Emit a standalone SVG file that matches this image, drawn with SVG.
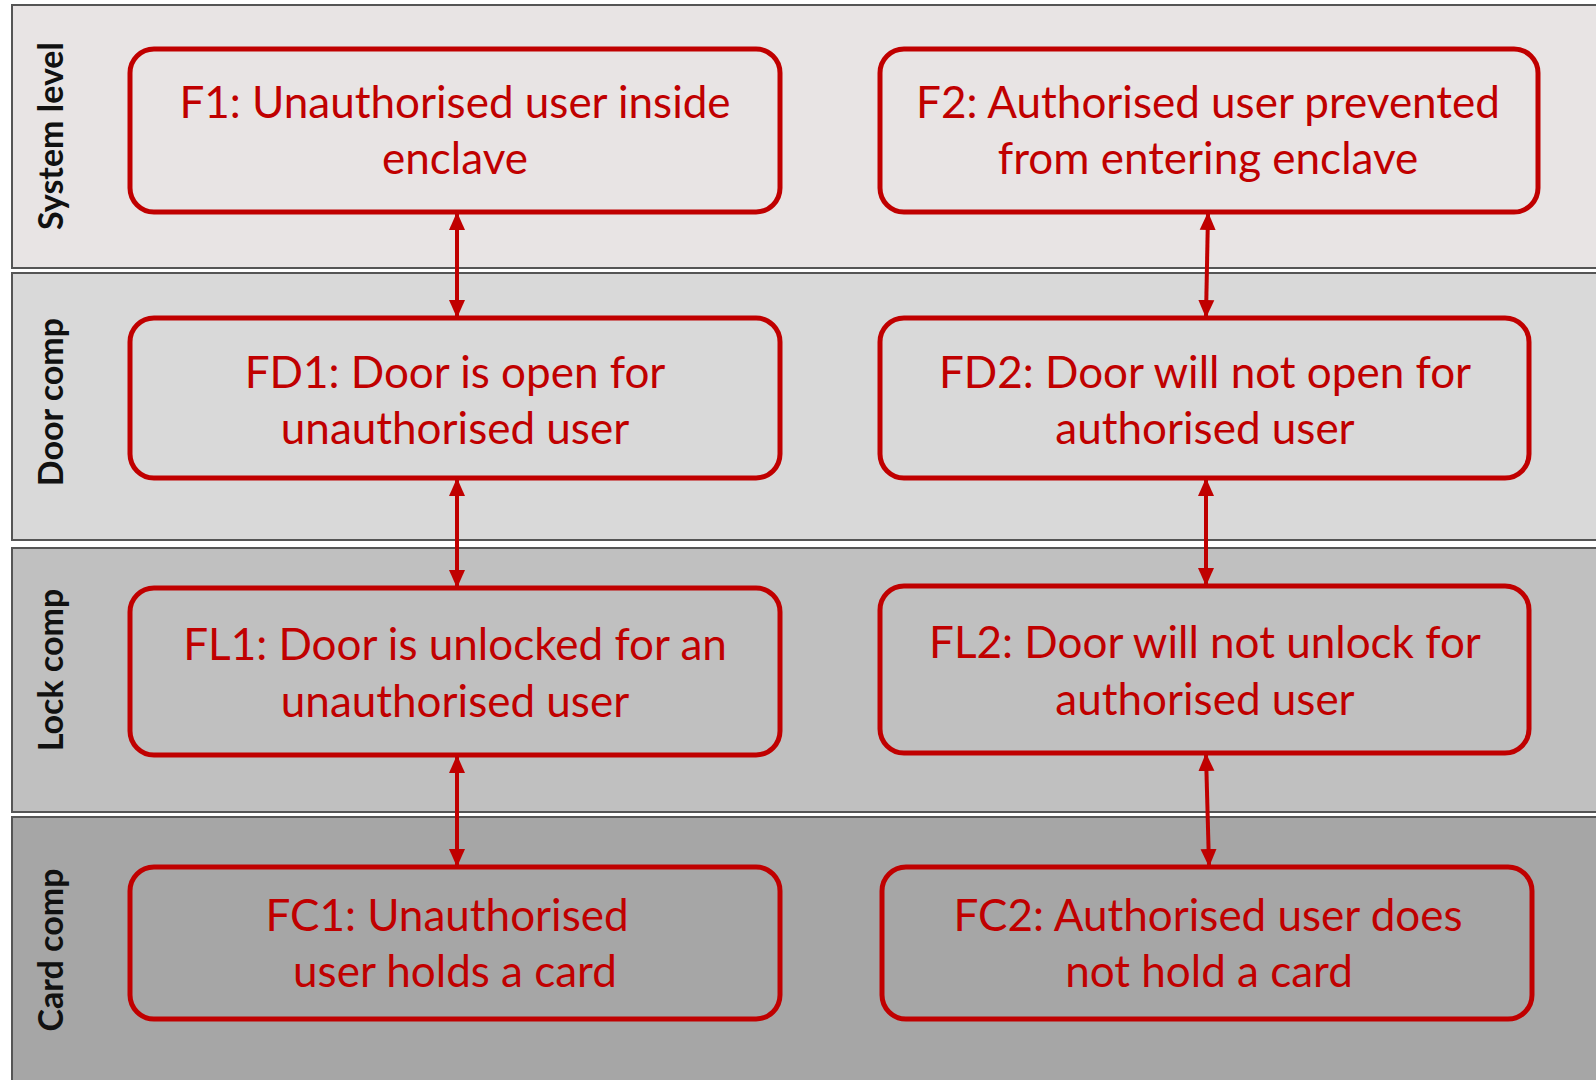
<svg xmlns="http://www.w3.org/2000/svg" width="1596" height="1080" viewBox="0 0 1596 1080">
<style>
.lane{stroke:#555;stroke-width:2}
.box{fill:none;stroke:#c00000;stroke-width:5}
.t{font-family:Lato,"Open Sans",sans-serif;font-size:44px;fill:#c00000;text-anchor:middle}
.lbl{font-family:Lato,"Open Sans",sans-serif;font-size:34px;font-weight:bold;fill:#111;text-anchor:middle}
.c{stroke:#c00000;stroke-width:4;fill:none;marker-start:url(#ah);marker-end:url(#ah)}
</style>
<defs>
<marker id="ah" markerUnits="userSpaceOnUse" markerWidth="18" markerHeight="18" viewBox="0 0 18 18" refX="16" refY="9" orient="auto-start-reverse">
<path d="M0,1 L18,9 L0,17 Z" fill="#c00000"/>
</marker>
</defs>
<rect width="1596" height="1080" fill="#ffffff"/>
<g id="lanes">
<rect class="lane" x="12" y="5" width="1600" height="263" fill="#e8e4e4"/>
<rect class="lane" x="12" y="273" width="1600" height="267" fill="#d9d9d9"/>
<rect class="lane" x="12" y="548" width="1600" height="264" fill="#c0c0c0"/>
<rect class="lane" x="12" y="817" width="1600" height="280" fill="#a6a6a6"/>
<text class="lbl" transform="translate(63,136) rotate(-90)">System level</text>
<text class="lbl" transform="translate(63,402) rotate(-90)">Door comp</text>
<text class="lbl" transform="translate(63,670) rotate(-90)">Lock comp</text>
<text class="lbl" transform="translate(63,950) rotate(-90)">Card comp</text>
</g>
<g id="connectors">
<path class="c" d="M457,214 L457,316"/>
<path class="c" d="M1208,214 L1206,316"/>
<path class="c" d="M457,480 L457,586"/>
<path class="c" d="M1206,480 L1206,584"/>
<path class="c" d="M457,757 L457,865"/>
<path class="c" d="M1206,755 L1209,865"/>
</g>
<g id="F1">
<rect class="box" x="130" y="49" width="650" height="163" rx="24"/>
<text class="t" x="455" y="118">F1: Unauthorised  user inside</text>
<text class="t" x="455" y="174">enclave</text>
</g>
<g id="F2">
<rect class="box" x="880" y="49" width="658" height="163" rx="24"/>
<text class="t" x="1208" y="118">F2: Authorised  user prevented</text>
<text class="t" x="1208" y="174">from entering  enclave</text>
</g>
<g id="FD1">
<rect class="box" x="130" y="318" width="650" height="160" rx="24"/>
<text class="t" x="455" y="388">FD1: Door is open for</text>
<text class="t" x="455" y="444">unauthorised  user</text>
</g>
<g id="FD2">
<rect class="box" x="880" y="318" width="649" height="160" rx="24"/>
<text class="t" x="1205" y="388">FD2: Door will not open for</text>
<text class="t" x="1205" y="444">authorised  user</text>
</g>
<g id="FL1">
<rect class="box" x="130" y="588" width="650" height="167" rx="24"/>
<text class="t" x="455" y="660">FL1: Door  is unlocked  for an</text>
<text class="t" x="455" y="717">unauthorised  user</text>
</g>
<g id="FL2">
<rect class="box" x="880" y="586" width="649" height="167" rx="24"/>
<text class="t" x="1205" y="658">FL2: Door  will not unlock for</text>
<text class="t" x="1205" y="715">authorised  user</text>
</g>
<g id="FC1">
<rect class="box" x="130" y="867" width="650" height="152" rx="24"/>
<text class="t" x="447" y="931">FC1: Unauthorised</text>
<text class="t" x="455" y="987">user holds  a card</text>
</g>
<g id="FC2">
<rect class="box" x="882" y="867" width="650" height="152" rx="24"/>
<text class="t" x="1208" y="931">FC2:  Authorised  user does</text>
<text class="t" x="1209" y="987">not hold  a card</text>
</g>
</svg>
